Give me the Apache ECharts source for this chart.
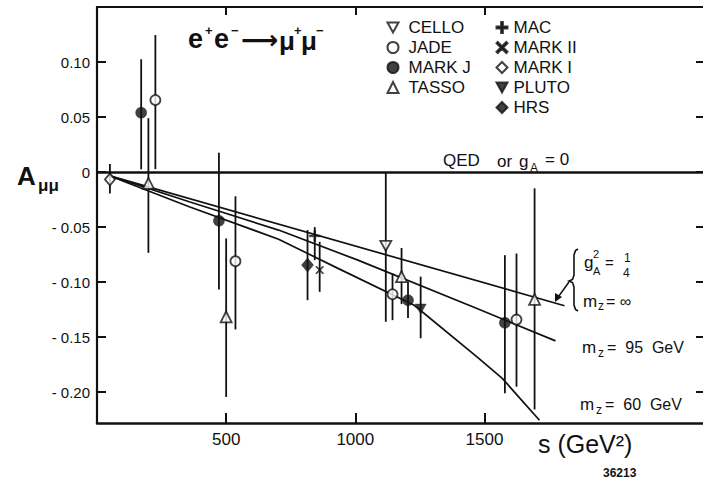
<!DOCTYPE html>
<html>
<head>
<meta charset="utf-8">
<script src="https://cdn.jsdelivr.net/npm/echarts@6/dist/echarts.min.js"></script>
<style>html,body{margin:0;padding:0;background:#fff}#c{width:703px;height:481px}</style>
</head>
<body>
<div id="c"></div>
<script>
// ---- data: [s (GeV^2), A, lower end of bar, upper end of bar]
const cello = [[1118, -0.067, -0.136, 0.0]];
const jade  = [[226, 0.0655, 0.0027, 0.1245], [536, -0.081, -0.143, -0.022], [1144, -0.111, -0.1345, -0.092], [1624, -0.134, -0.195, -0.074]];
const markJ = [[171, 0.054, 0.0025, 0.1025], [472, -0.0443, -0.1066, 0.0176], [1204, -0.1164, -0.1327, -0.0997], [1579, -0.137, -0.201, -0.0755]];
const tasso = [[199, -0.0103, -0.0734, 0.049], [500, -0.1315, -0.2043, -0.0603], [1179, -0.095, -0.12, -0.069], [1694, -0.1157, -0.2157, -0.0148]];
const mac   = [[843, -0.058, -0.08, -0.05]];
const markII = [[862, -0.089, -0.1088, -0.0634]];
const markI = [[50, -0.0067, -0.0194, 0.0073]];
const pluto = [[1253, -0.1245, -0.151, -0.095]];
const hrs   = [[815, -0.0845, -0.1164, -0.0527]];

// theory curves
const curveInf = [[50, -0.0035], [1810, -0.1215]];
const curve95  = [[50, -0.0035], [357, -0.027], [703, -0.0527], [1010, -0.080], [1471, -0.124], [1775, -0.1534]];
const curve60  = [[50, -0.0035], [357, -0.0315], [703, -0.061], [933, -0.0875], [1228, -0.121], [1471, -0.168], [1569, -0.1875], [1713, -0.2255]];

// axis ticks
const xTicks = [500, 1000, 1500];
const yTicks = [-0.20, -0.15, -0.10, -0.05, 0, 0.05, 0.10];

const INK = '#111';
const FF = 'Liberation Sans, Arial, sans-serif';

const allExp = [cello, jade, markJ, tasso, mac, markII, markI, pluto, hrs];
const barData = [].concat(...allExp);

const plusPath = 'path://M4.2,0H5.8V4.2H10V5.8H5.8V10H4.2V5.8H0V4.2H4.2Z';
const crossPath = 'path://M1.1,0L5,3.9L8.9,0L10,1.1L6.1,5L10,8.9L8.9,10L5,6.1L1.1,10L0,8.9L3.9,5L0,1.1Z';
const downTri = 'path://M0,0L10,0L5,9Z';

function sc(name, arr, symbol, size, open) {
  return {
    name: name, type: 'scatter', z: 5,
    data: arr.map(d => [d[0], d[1]]),
    symbol: symbol, symbolSize: size,
    itemStyle: open ? {color: '#fff', borderColor: INK, borderWidth: 1.8} : {color: INK, borderColor: INK, borderWidth: 0.5}
  };
}
function curve(name, arr) {
  return {name: name, type: 'line', data: arr, showSymbol: false, symbol: 'none', z: 2,
    lineStyle: {color: INK, width: 1.7}, silent: true};
}
function T(x, y, s, size, weight, family) {
  return {type: 'text', x: x, y: y, silent: true,
    style: {text: s, fontSize: size, fontWeight: weight || 'normal', fontFamily: family || FF, fill: INK,
      align: 'left', verticalAlign: 'middle', textAlign: 'left', textVerticalAlign: 'middle'}};
}

const chart = echarts.init(document.getElementById('c'), null, {renderer: 'svg'});
const legendText = {color: INK, fontSize: 17, fontFamily: FF, lineHeight: 16};
chart.setOption({
  animation: false,
  backgroundColor: '#fff',
  grid: {left: 97, top: 7, right: -5, bottom: 58},
  legend: [
    {data: ['CELLO', 'JADE', 'MARK J', 'TASSO'], orient: 'vertical', left: 386.5, top: 19,
     itemWidth: 11, itemHeight: 11, itemGap: 3, padding: 0, selectedMode: false,
     textStyle: Object.assign({padding: [0, 0, 0, 5]}, legendText)},
    {data: ['MAC', 'MARK II', 'MARK I', 'PLUTO', 'HRS'], orient: 'vertical', left: 495.5, top: 19,
     itemWidth: 11, itemHeight: 11, itemGap: 3, padding: 0, selectedMode: false,
     textStyle: Object.assign({padding: [0, 0, 0, 1]}, legendText)}
  ],
  xAxis: [
    {type: 'value', min: 0, max: 2346, position: 'bottom',
     axisLine: {onZero: false, lineStyle: {color: INK, width: 2.5}},
     axisTick: {inside: true, length: 10, lineStyle: {color: INK, width: 2}, customValues: xTicks},
     axisLabel: {customValues: xTicks, color: INK, fontSize: 17, fontFamily: FF, margin: 8,
       formatter: v => String(v)},
     splitLine: {show: false}},
    {type: 'value', min: 0, max: 2346, position: 'top',
     axisLine: {onZero: false, lineStyle: {color: INK, width: 2}},
     axisTick: {inside: true, length: 8, lineStyle: {color: INK, width: 2}, customValues: xTicks},
     axisLabel: {show: false}, splitLine: {show: false}}
  ],
  yAxis: [
    {type: 'value', min: -0.228, max: 0.15, position: 'left',
     axisLine: {show: true, onZero: false, lineStyle: {color: INK, width: 2.2}},
     axisTick: {show: true, inside: true, length: 9, lineStyle: {color: INK, width: 2}, customValues: yTicks},
     axisLabel: {customValues: yTicks, color: INK, fontSize: 15, fontFamily: FF, margin: 7,
       formatter: v => Math.abs(v) < 1e-9 ? '0' : (v < 0 ? '- ' + Math.abs(v).toFixed(2) : v.toFixed(2))},
     splitLine: {show: false}},
    {type: 'value', min: -0.228, max: 0.15, position: 'right',
     axisLine: {show: false, onZero: false},
     axisTick: {show: true, inside: true, length: 7, lineStyle: {color: INK, width: 2}, customValues: yTicks},
     axisLabel: {show: false}, splitLine: {show: false}}
  ],
  series: [
    {name: 'errors', type: 'custom', z: 3, silent: true, data: barData,
     encode: {x: 0, y: [2, 3]},
     renderItem: function (params, api) {
       const a = api.coord([api.value(0), api.value(2)]);
       const b = api.coord([api.value(0), api.value(3)]);
       return {type: 'line', shape: {x1: a[0], y1: a[1], x2: b[0], y2: b[1]},
               style: {stroke: INK, lineWidth: 1.8}};
     }},
    Object.assign(curve('m_z = ∞', curveInf), {
      markLine: {silent: true, symbol: 'none', label: {show: false},
        lineStyle: {color: INK, width: 2.5, type: 'solid'}, data: [{yAxis: 0}]}}),
    curve('m_z = 95 GeV', curve95),
    curve('m_z = 60 GeV', curve60),
    sc('CELLO', cello, downTri, [11, 10], true),
    sc('JADE', jade, 'circle', 10, true),
    sc('MARK J', markJ, 'circle', 11, false),
    sc('TASSO', tasso, 'triangle', 11, true),
    sc('MAC', mac, plusPath, 11, false),
    sc('MARK II', markII, crossPath, 8, false),
    sc('MARK I', markI, 'diamond', [10, 12], true),
    sc('PLUTO', pluto, downTri, [11, 10], false),
    sc('HRS', hrs, 'diamond', [12, 14], false)
  ],
  graphic: [
    // y-axis title A_{μμ}
    T(17, 176, 'A', 26, 'bold'),
    T(38, 185, 'μμ', 17, 'bold'),
    // reaction
    T(188, 39, 'e', 27, 'bold'),
    T(205, 30, '+', 13, 'bold'),
    T(214, 39, 'e', 27, 'bold'),
    T(231, 30, '−', 13, 'bold'),
    T(241, 40, '⟶', 26, 'bold', 'DejaVu Sans'),
    T(279, 41, 'μ', 26, 'bold'),
    T(294, 30, '+', 13, 'bold'),
    T(301, 41, 'μ', 26, 'bold'),
    T(316, 30, '−', 13, 'bold'),
    // QED or g_A = 0
    T(443, 160, 'QED', 17),
    T(497, 161, 'or', 17),
    T(519, 161, 'g', 17),
    T(530, 168, 'A', 12),
    T(545, 159, '= 0', 17),
    // g_A^2 = 1/4 , m_z = ∞
    T(584, 262, 'g', 17),
    T(593, 254, '2', 11),
    T(593, 271, 'A', 11),
    T(605, 262, '=', 15),
    T(624, 258, '1', 12),
    T(623, 273, '4', 12),
    T(583, 301, 'm', 17),
    T(598, 306, 'z', 12),
    T(606, 301, '= ∞', 16),
    // m_z = 95 GeV
    T(582, 347, 'm', 17),
    T(598, 353, 'z', 12),
    T(607, 347, '=  95  GeV', 16),
    // m_z = 60 GeV
    T(580, 404, 'm', 17),
    T(596, 410, 'z', 12),
    T(605, 404, '=  60  GeV', 16),
    // axis title
    T(538, 444, 's (GeV²)', 25),
    T(603, 473, '36213', 12, 'bold'),
    // brace and arrow
    {type: 'polyline', silent: true,
     shape: {points: [[578, 249], [575.5, 250.5], [574, 255], [574, 275], [572.5, 279.5], [569, 281],
                      [572.5, 282.5], [574, 287], [574, 305], [575.5, 309.5], [578, 311]]},
     style: {fill: 'none', stroke: INK, lineWidth: 1.6}},
    {type: 'line', silent: true, shape: {x1: 569, y1: 282, x2: 556, y2: 300}, style: {stroke: INK, lineWidth: 1.5}},
    {type: 'polygon', silent: true, shape: {points: [[555, 302], [555, 293], [562, 297]]}, style: {fill: INK}}
  ]
});
</script>
</body>
</html>
